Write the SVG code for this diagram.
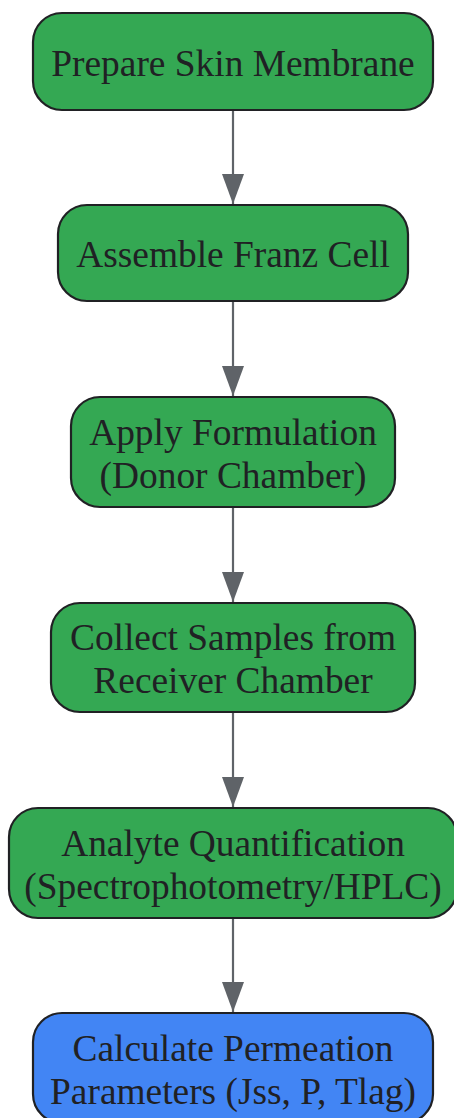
<svg xmlns="http://www.w3.org/2000/svg" width="454" height="1118" viewBox="0 0 454 1118">
<style>
.n rect{stroke:#202124;stroke-width:2.2}
.g rect{fill:#34a853}
.b rect{fill:#4285f4}
text{font-family:"Liberation Serif","Times New Roman",serif;font-size:37.4px;fill:#202124;text-anchor:middle}
.e line{stroke:#5f6368;stroke-width:2.2;marker-end:url(#ah)}
</style>
<defs>
<marker id="ah" markerUnits="userSpaceOnUse" markerWidth="30" markerHeight="22" refX="30" refY="11" orient="auto">
<path d="M0,0 L30,11 L0,22 z" fill="#5f6368"/>
</marker>
</defs>
<rect width="454" height="1118" fill="#ffffff"/>
<g id="edges" class="e">
<line x1="233" y1="110" x2="233" y2="204"/>
<line x1="233" y1="301" x2="233" y2="396"/>
<line x1="233" y1="507" x2="233" y2="602"/>
<line x1="233" y1="712" x2="233" y2="807"/>
<line x1="233" y1="918" x2="233" y2="1012"/>
</g>
<g id="n1" class="n g">
<rect x="33" y="13" width="400" height="97" rx="29"/>
<text x="233" y="75.5">Prepare Skin Membrane</text>
</g>
<g id="n2" class="n g">
<rect x="58" y="205" width="350" height="96" rx="29"/>
<text x="233" y="267">Assemble Franz Cell</text>
</g>
<g id="n3" class="n g">
<rect x="71" y="397" width="324" height="110" rx="29"/>
<text x="233" y="444.5">Apply Formulation</text>
<text x="233" y="487.5">(Donor Chamber)</text>
</g>
<g id="n4" class="n g">
<rect x="51" y="603" width="364" height="109" rx="29"/>
<text x="233" y="649.5">Collect Samples from</text>
<text x="233" y="692.5">Receiver Chamber</text>
</g>
<g id="n5" class="n g">
<rect x="9" y="808" width="448" height="110" rx="29"/>
<text x="233" y="855.5">Analyte Quantification</text>
<text x="233" y="898.5">(Spectrophotometry/HPLC)</text>
</g>
<g id="n6" class="n b">
<rect x="33" y="1013" width="400" height="110" rx="29"/>
<text x="233" y="1060.5">Calculate Permeation</text>
<text x="233" y="1103.5">Parameters (Jss, P, Tlag)</text>
</g>
</svg>
